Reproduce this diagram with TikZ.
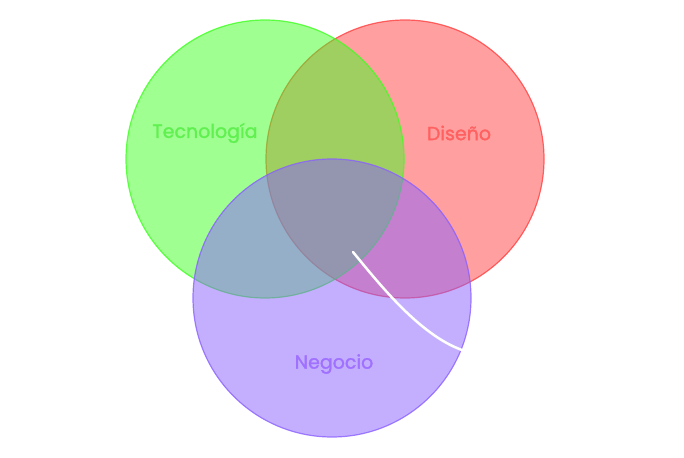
\documentclass[tikz,border=0pt]{standalone}
\usepackage{fontspec}
\setmainfont{Poppins}
\newfontfamily\labelfont[FakeBold=1.5]{Poppins}
\definecolor{cgreen}{RGB}{64,255,34}
\definecolor{cred}{RGB}{255,64,64}
\definecolor{cpurple}{RGB}{138,96,255}
\definecolor{tgreen}{RGB}{96,240,80}
\definecolor{tred}{RGB}{255,96,96}
\definecolor{tpurple}{RGB}{160,112,255}
\tikzset{
  setcircle/.style={circle, minimum size=278pt, inner sep=0pt, line width=1.2pt},
  setlabel/.style={font=\labelfont\fontsize{19}{22}\selectfont},
}
\begin{document}
\begin{tikzpicture}[x=1pt,y=-1pt]
\useasboundingbox (0,0) rectangle (684,457);
\node[setcircle, fill=cred, fill opacity=0.5, draw=cred, draw opacity=0.8] (design) at (405,159) {};
\node[setcircle, fill=cgreen, fill opacity=0.5, draw=cgreen, draw opacity=0.8] (tech) at (265,159) {};
\node[setcircle, fill=cpurple, fill opacity=0.5, draw=cpurple, draw opacity=0.8] (biz) at (332,298) {};
\node[setlabel, text=tgreen] (techlabel) at (205,133) {Tecnología};
\node[setlabel, text=tred] (designlabel) at (459,133) {Diseño};
\node[setlabel, text=tpurple] (bizlabel) at (334,364) {Negocio};
\coordinate (cstart) at (353,252);
\coordinate (cend) at (462,350);
\draw[white, line width=2.5pt, line cap=round] (cstart) .. controls (380,285) and (420,335) .. (cend);
\end{tikzpicture}
\end{document}
